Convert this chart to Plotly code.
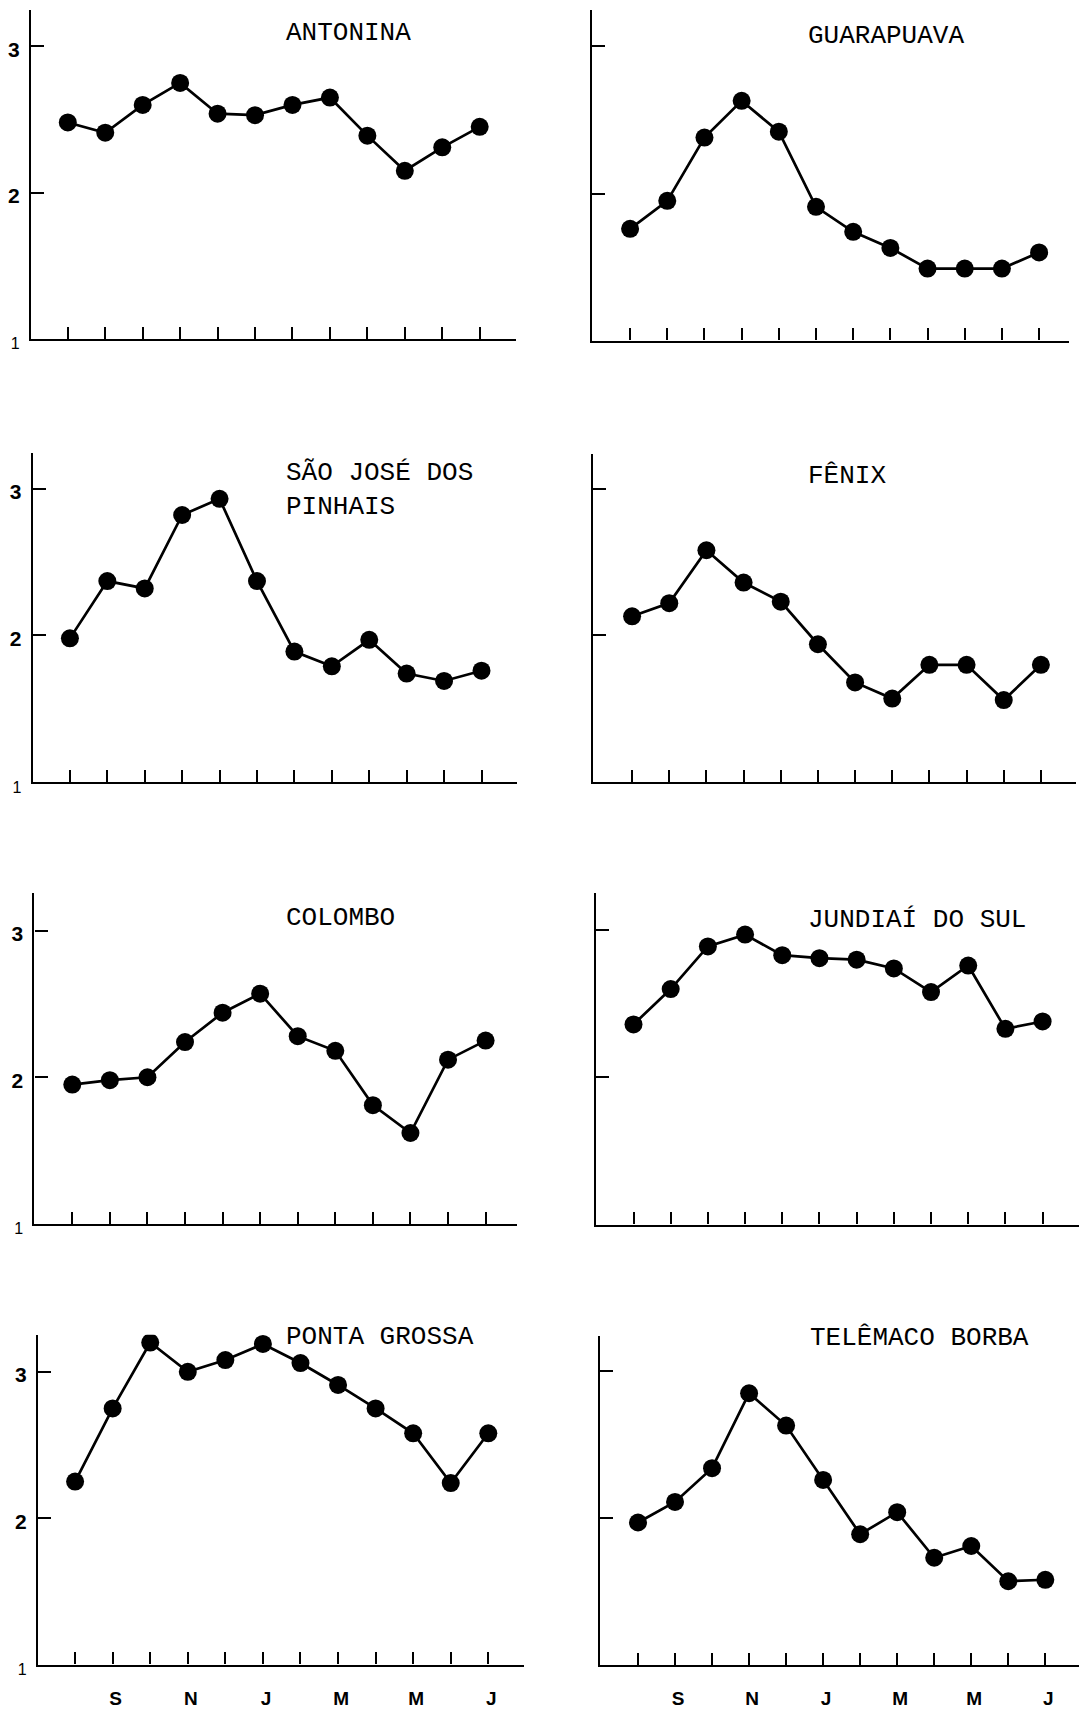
import plotly.graph_objects as go

W, H = 1079, 1712

# ---- data -------------------------------------------------------------
months = list(range(1, 13))  # Aug .. Jul
month_labels = ["", "S", "", "N", "", "J", "", "M", "", "M", "", "J"]
y_tick_vals = [1, 2, 3]
y_tick_text = ["1", "2", "3"]

station_names = [
    "ANTONINA", "GUARAPUAVA",
    "SÃO JOSÉ DOS<br>PINHAIS", "FÊNIX",
    "COLOMBO", "JUNDIAÍ DO SUL",
    "PONTA GROSSA", "TELÊMACO BORBA",
]

antonina = [2.48, 2.41, 2.60, 2.75, 2.54, 2.53, 2.60, 2.65, 2.39, 2.15, 2.31, 2.45]
guarapuava = [1.76, 1.95, 2.38, 2.63, 2.42, 1.91, 1.74, 1.63, 1.49, 1.49, 1.49, 1.60]
sao_jose = [1.98, 2.37, 2.32, 2.82, 2.93, 2.37, 1.89, 1.79, 1.97, 1.74, 1.69, 1.76]
fenix = [2.13, 2.22, 2.58, 2.36, 2.23, 1.94, 1.68, 1.57, 1.80, 1.80, 1.56, 1.80]
colombo = [1.95, 1.98, 2.00, 2.24, 2.44, 2.57, 2.28, 2.18, 1.81, 1.62, 2.12, 2.25]
jundiai = [2.36, 2.60, 2.89, 2.97, 2.83, 2.81, 2.80, 2.74, 2.58, 2.76, 2.33, 2.38]
ponta_grossa = [2.25, 2.75, 3.20, 3.00, 3.08, 3.19, 3.06, 2.91, 2.75, 2.58, 2.24, 2.58]
telemaco = [1.97, 2.11, 2.34, 2.85, 2.63, 2.26, 1.89, 2.04, 1.73, 1.81, 1.57, 1.58]

series = [antonina, guarapuava, sao_jose, fenix, colombo, jundiai, ponta_grossa, telemaco]

# ---- layout geometry (pixels) -----------------------------------------
# x0: y-axis line, t1/t12: first/last x tick, x1: end of x-axis line
# ytop: top of y-axis line, t3: y=3 tick, ybot: x-axis line
geom = [
    dict(x0=31.0, t1=67.8, t12=479.7, x1=515.5, ytop=10, t3=46.7, ybot=341.7),
    dict(x0=591.6, t1=630.1, t12=1039.1, x1=1069.4, ytop=10, t3=46.7, ybot=343.3),
    dict(x0=32.7, t1=69.9, t12=481.5, x1=516.6, ytop=456.7, t3=492.3, ybot=788.3),
    dict(x0=593.3, t1=632.1, t12=1040.9, x1=1076.3, ytop=457, t3=492.3, ybot=788.3),
    dict(x0=34.4, t1=72.3, t12=485.6, x1=516.6, ytop=900, t3=937.7, ybot=1233.3),
    dict(x0=595.7, t1=633.5, t12=1042.6, x1=1079, ytop=900, t3=937.3, ybot=1234),
    dict(x0=37.9, t1=75.1, t12=488.3, x1=523.5, ytop=1345, t3=1382.3, ybot=1677.3),
    dict(x0=600.2, t1=638.0, t12=1045.3, x1=1079, ytop=1346, t3=1381.7, ybot=1677.7),
]
title_pos = [
    (284, 33), (806, 36),
    (284, 494), (806, 480),
    (284, 925), (806, 927),
    (284, 1347), (808, 1348),
]

fig = go.Figure()
annotations = []
title_font = dict(family="Liberation Mono", size=26, color="black")

for i, (vals, g) in enumerate(zip(series, geom)):
    k = i + 1
    xa = f"x{k}" if k > 1 else "x"
    ya = f"y{k}" if k > 1 else "y"
    fig.add_trace(go.Scatter(
        x=months, y=vals, xaxis=xa, yaxis=ya, mode="lines+markers",
        line=dict(color="black", width=2.7),
        marker=dict(color="black", size=18),
        showlegend=False, hoverinfo="skip",
    ))
    s = (g["t12"] - g["t1"]) / 11.0
    xr0 = 1 - (g["t1"] - g["x0"]) / s
    xr1 = xr0 + (g["x1"] - g["x0"]) / s
    u = (g["ybot"] - g["t3"]) / 2.0
    yr1 = 1 + (g["ybot"] - g["ytop"]) / u
    left = (i % 2 == 0)
    bottom = (i >= 6)
    xkey = f"xaxis{k}" if k > 1 else "xaxis"
    ykey = f"yaxis{k}" if k > 1 else "yaxis"
    fig.layout[xkey] = dict(
        domain=[g["x0"] / W, min(g["x1"] / W, 1.0)], range=[xr0, xr1],
        anchor=ya, showgrid=False, zeroline=False, showline=True,
        linecolor="black", linewidth=2.4, ticks="inside", ticklen=12,
        tickwidth=1.6, tickcolor="black", tickmode="array", tickvals=months,
        ticktext=month_labels if bottom else [""] * 12,
        showticklabels=bottom, ticklabelstandoff=15, ticklabelshift=3,
        tickfont=dict(family="Liberation Sans", size=19, color="black", weight="bold"),
        fixedrange=True,
    )
    fig.layout[ykey] = dict(
        domain=[1 - g["ybot"] / H, 1 - g["ytop"] / H], range=[1, yr1],
        anchor=xa, showgrid=False, zeroline=False, showline=True,
        linecolor="black", linewidth=2.2, ticks="inside", ticklen=13,
        tickwidth=1.6, tickcolor="black", tickmode="array",
        tickvals=y_tick_vals,
        ticktext=["<span style='font-size:16px;font-weight:normal'>" + y_tick_text[0] + "</span>"] + y_tick_text[1:],
        showticklabels=left, ticklabelstandoff=5, ticklabelshift=3,
        tickfont=dict(family="Liberation Sans", size=21, color="black", weight="bold"),
        fixedrange=True,
    )
    tx, ty = title_pos[i]
    annotations.append(dict(
        text=station_names[i], xref="paper", yref="paper",
        x=tx / W, y=1 - ty / H, xanchor="left", yanchor="middle",
        align="left", showarrow=False, font=title_font,
    ))

fig.update_layout(
    width=W, height=H, margin=dict(l=0, r=0, t=0, b=0),
    paper_bgcolor="white", plot_bgcolor="white",
    annotations=annotations,
)

fig.write_html("out.html")
